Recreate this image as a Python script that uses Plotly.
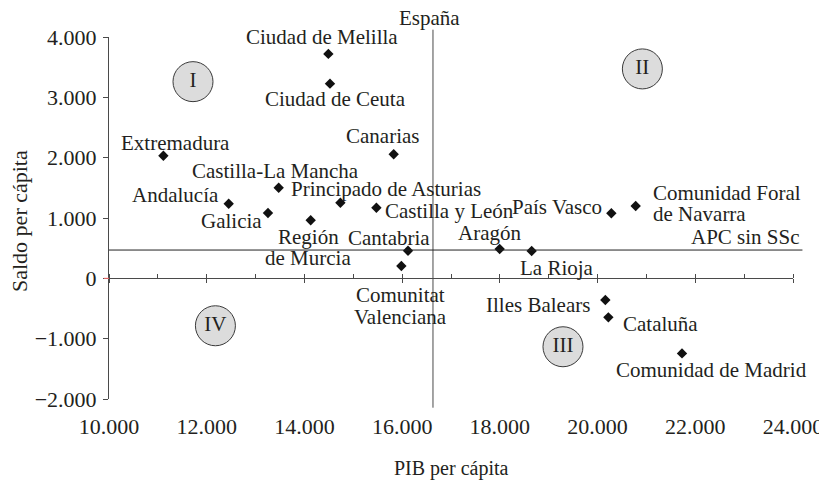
import plotly.graph_objects as go

# ---- data ----
regions = ["Extremadura", "Andalucía", "Castilla-La Mancha", "Galicia", "Región de Murcia",
           "Ciudad de Melilla", "Ciudad de Ceuta", "Principado de Asturias", "Castilla y León",
           "Canarias", "Comunitat Valenciana", "Cantabria", "Aragón", "La Rioja",
           "Illes Balears", "Cataluña", "País Vasco", "Comunidad Foral de Navarra",
           "Comunidad de Madrid"]
pib_pc = [11113, 12450, 13473, 13254, 14128, 14490, 14523, 14736, 15473, 15827,
          15984, 16120, 17996, 18651, 20159, 20221, 20282, 20780, 21728]
saldo_pc = [2033, 1237, 1502, 1083, 962, 3720, 3227, 1254, 1171, 2056,
            204, 458, 486, 453, -360, -647, 1078, 1199, -1244]

espana_pib = 16631      # vertical reference line
apc_sin_ssc = 469       # horizontal reference line

x_tickvals = [10000, 12000, 14000, 16000, 18000, 20000, 22000, 24000]
x_ticktext = ["10.000", "12.000", "14.000", "16.000", "18.000", "20.000", "22.000", "24.000"]
y_tickvals = [-2000, -1000, 0, 1000, 2000, 3000, 4000]
y_ticktext = ["\u22122.000", "\u22121.000", "0", "1.000", "2.000", "3.000", "4.000"]

quadrant_names = ["I", "II", "III", "IV"]
quadrant_pib = [11719, 20917, 19292, 12178]
quadrant_saldo = [3260, 3471, -1134, -786]

# ---- label placement (pixels): region -> list of (line text, xanchor, dx, dy) ----
label_layout = {
    "Extremadura": [("Extremadura", "center", 12, -13)],
    "Andalucía": [("Andalucía", "right", -8, -9)],
    "Castilla-La Mancha": [("Castilla-La Mancha", "center", -3, -17)],
    "Galicia": [("Galicia", "right", -4, 8)],
    "Región de Murcia": [("Región", "center", -2, 17), ("de Murcia", "center", -3, 38)],
    "Ciudad de Melilla": [("Ciudad de Melilla", "center", -6, -17)],
    "Ciudad de Ceuta": [("Ciudad de Ceuta", "center", 6, 15)],
    "Principado de Asturias": [("Principado de Asturias", "left", -51, -14)],
    "Castilla y León": [("Castilla y León", "left", 7, 3)],
    "Canarias": [("Canarias", "center", -11, -18)],
    "Comunitat Valenciana": [("Comunitat", "center", -1, 29), ("Valenciana", "center", -1, 51)],
    "Cantabria": [("Cantabria", "center", -19, -13)],
    "Aragón": [("Aragón", "center", -10, -16)],
    "La Rioja": [("La Rioja", "center", 25, 17)],
    "Illes Balears": [("Illes Balears", "right", -13, 5)],
    "Cataluña": [("Cataluña", "left", 13, 7)],
    "País Vasco": [("País Vasco", "right", -7, -6)],
    "Comunidad Foral de Navarra": [("Comunidad Foral", "left", 15, -13), ("de Navarra", "left", 15, 8)],
    "Comunidad de Madrid": [("Comunidad de Madrid", "center", 29, 17)],
}

FONT = "Liberation Serif, Times New Roman, serif"
TXT = "#231f20"
LINE = "#4a4a4a"
FS = 21
TICKFS = 22

fig = go.Figure()

fig.add_trace(go.Scatter(
    x=pib_pc, y=saldo_pc, mode="markers",
    marker=dict(symbol="diamond", size=8, color="#111111"),
    hoverinfo="text", text=regions, showlegend=False, cliponaxis=False,
))

fig.add_trace(go.Scatter(
    x=quadrant_pib, y=quadrant_saldo, mode="markers+text",
    text=quadrant_names, textposition="middle center",
    textfont=dict(family=FONT, size=FS, color=TXT),
    marker=dict(symbol="circle", size=40, color="#dcdcdc", line=dict(color="#3a3a3a", width=1)),
    showlegend=False, hoverinfo="skip",
))

# dummy traces on overlay axes so they render
fig.add_trace(go.Scatter(x=[10000], y=[0], xaxis="x2", mode="markers",
                         marker=dict(opacity=0), showlegend=False, hoverinfo="skip"))
fig.add_trace(go.Scatter(x=[10000], y=[0], xaxis="x3", mode="markers",
                         marker=dict(opacity=0), showlegend=False, hoverinfo="skip"))

annotations = []
for name, px, py in zip(regions, pib_pc, saldo_pc):
    for text, anchor, dx, dy in label_layout[name]:
        annotations.append(dict(
            x=px, y=py, xref="x", yref="y", text=text, showarrow=False,
            xanchor=anchor, yanchor="middle", xshift=dx, yshift=-dy,
            font=dict(family=FONT, size=FS, color=TXT),
        ))

# reference-line labels
annotations.append(dict(x=espana_pib, y=1.0, xref="x", yref="paper", text="España",
                        showarrow=False, xanchor="center", yanchor="bottom", xshift=-3, yshift=5,
                        font=dict(family=FONT, size=FS, color=TXT)))
annotations.append(dict(x=1.0138, y=apc_sin_ssc, xref="paper", yref="y", text="APC sin SSc",
                        showarrow=False, xanchor="right", yanchor="bottom", yshift=-1,
                        font=dict(family=FONT, size=FS, color=TXT)))
# axis titles
annotations.append(dict(x=0.5, y=0, xref="paper", yref="paper", text="PIB per cápita",
                        showarrow=False, xanchor="center", yanchor="middle", yshift=-69,
                        font=dict(family=FONT, size=20, color=TXT)))
annotations.append(dict(x=0, y=0.5, xref="paper", yref="paper", text="Saldo per cápita",
                        showarrow=False, xanchor="center", yanchor="middle", xshift=-90, yshift=-3,
                        textangle=-90, font=dict(family=FONT, size=22, color=TXT)))

shapes = [
    dict(type="line", xref="x", yref="paper", x0=espana_pib, x1=espana_pib,
         y0=-0.024, y1=1.0202, line=dict(color=LINE, width=1)),
    dict(type="line", xref="paper", yref="y", x0=0, x1=1.0138,
         y0=apc_sin_ssc, y1=apc_sin_ssc, line=dict(color="#222222", width=1)),
    dict(type="line", xref="paper", yref="y", x0=-0.0075, x1=0, y0=0, y1=0,
         line=dict(color="#ff6b6b", width=1)),
]

zero_pos = (0 - y_tickvals[0]) / (y_tickvals[-1] - y_tickvals[0])

# page body adds an 8px offset; size the figure so the plot lands where the reference has it
fig.update_layout(
    width=819, height=475,
    margin=dict(l=101, r=34, t=29, b=84, autoexpand=False),
    paper_bgcolor="white", plot_bgcolor="white",
    font=dict(family=FONT, size=FS, color=TXT),
    annotations=annotations, shapes=shapes,
    xaxis=dict(range=[10000, 24000], tickvals=x_tickvals, ticktext=x_ticktext,
               showline=False, showgrid=False, zeroline=False, ticks="outside",
               ticklen=0, ticklabelstandoff=8, tickfont=dict(family=FONT, size=TICKFS, color=TXT)),
    xaxis2=dict(overlaying="x", matches="x", anchor="free", position=zero_pos,
                tickvals=x_tickvals, showticklabels=False, showline=True, linecolor=LINE,
                linewidth=1, ticks="outside", ticklen=4, tickcolor=LINE, showgrid=False,
                zeroline=False,
                minor=dict(ticks="inside", ticklen=4, dtick=1000, tick0=11000, tickcolor=LINE,
                           showgrid=False)),
    xaxis3=dict(overlaying="x", matches="x", anchor="free", position=zero_pos,
                tickvals=x_tickvals, showticklabels=False, showline=False,
                ticks="inside", ticklen=4, tickcolor=LINE, showgrid=False, zeroline=False),
    yaxis=dict(range=[-2000, 4000], tickvals=y_tickvals, ticktext=y_ticktext,
               showline=True, linecolor=LINE, linewidth=1, ticks="outside", ticklen=5,
               tickcolor=LINE, showgrid=False, zeroline=False, ticklabelstandoff=2,
               tickfont=dict(family=FONT, size=TICKFS, color=TXT)),
)

fig.write_html("out.html")
